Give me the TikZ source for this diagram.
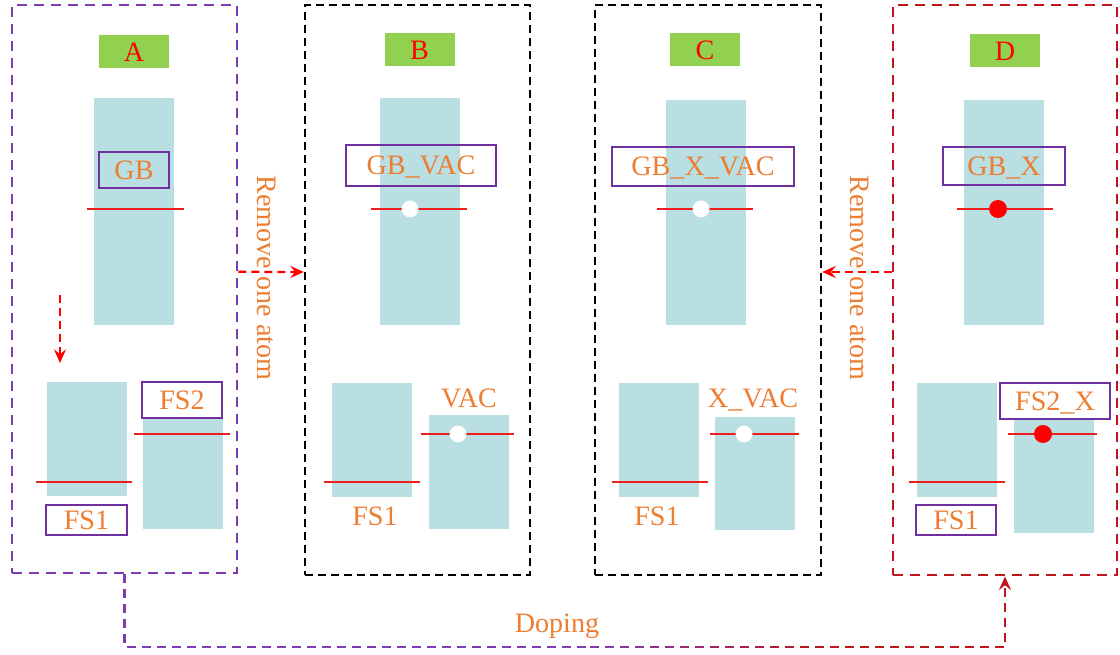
\documentclass[tikz,border=0pt]{standalone}
\usepackage{fontspec}
\setmainfont{Liberation Serif}
\usetikzlibrary{arrows.meta}
\definecolor{fpurple}{RGB}{125,60,180}
\definecolor{lpurple}{RGB}{112,48,160}
\definecolor{fred}{RGB}{192,20,30}
\definecolor{torange}{RGB}{237,125,49}
\definecolor{tgreen}{RGB}{146,208,80}
\definecolor{sblue}{RGB}{185,223,227}
\definecolor{lred}{RGB}{238,30,30}

\begin{document}
\begin{tikzpicture}[>={Stealth[length=0.34cm,width=0.3cm,inset=0.12cm]},font=\fontsize{20}{22}\selectfont,
 frm/.style={draw,line width=2pt,dash pattern=on 0.25cm off 0.175cm,minimum width=5.625cm,minimum height=14.25cm},
 tg/.style={fill=tgreen,text=red,minimum width=1.75cm,minimum height=0.825cm,inner sep=0pt,text height=13.2pt,text depth=0pt},
 blk/.style={fill=sblue,minimum width=2.0cm,inner sep=0pt},
 lbl/.style={draw=lpurple,line width=1.1pt,text=torange,minimum height=0.9cm,inner sep=0pt,text height=13.2pt,text depth=0pt},
 txt/.style={text=torange,inner sep=0pt,text height=13.2pt,text depth=0pt},
 lvl/.style={draw=lred,line width=1.4pt},
 vac/.style={circle,fill=white,minimum size=0.42cm,inner sep=0pt},
 dop/.style={circle,fill=red,minimum size=0.45cm,inner sep=0pt},
 mv/.style={draw=red,line width=1.6pt,dash pattern=on 0.2cm off 0.125cm,->},
 dpl/.style={line width=1.8pt,dash pattern=on 0.225cm off 0.15cm}]
\useasboundingbox (0,0) rectangle (28,-16.375);
% frames
\node[frm,draw=fpurple,minimum height=14.2cm] (fA) at (3.1125,-7.225) {};
\node[frm,draw=black,line width=1.6pt,dash pattern=on 0.2cm off 0.125cm] (fB) at (10.4375,-7.25) {};
\node[frm,draw=black,line width=1.6pt,dash pattern=on 0.2cm off 0.125cm,minimum width=5.65cm] (fC) at (17.7,-7.25) {};
\node[frm,draw=fred,minimum width=5.6cm] (fD) at (25.125,-7.25) {};
% tags
\node[tg] (tA) at (3.35,-1.3) {A};
\node[tg] (tB) at (10.49,-1.25) {B};
\node[tg] (tC) at (17.625,-1.25) {C};
\node[tg] (tD) at (25.125,-1.275) {D};
% slabs
\node[blk,minimum height=5.675cm] (gA) at (3.35,-5.29) {};
\node[blk,minimum height=5.675cm] (gB) at (10.51,-5.29) {};
\node[blk,minimum height=5.625cm] (gC) at (17.65,-5.31) {};
\node[blk,minimum height=5.625cm] (gD) at (25.1,-5.31) {};
\node[blk,minimum height=2.85cm] (sA1) at (2.1625,-10.975) {};
\node[blk,minimum height=2.85cm] (sB1) at (9.3,-10.99) {};
\node[blk,minimum height=2.85cm] (sC1) at (16.475,-10.99) {};
\node[blk,minimum height=2.85cm] (sD1) at (23.925,-10.99) {};
\node[blk,minimum height=2.775cm] (sA2) at (4.575,-11.8375) {};
\node[blk,minimum height=2.85cm] (sB2) at (11.725,-11.8) {};
\node[blk,minimum height=2.825cm] (sC2) at (18.875,-11.8375) {};
\node[blk,minimum height=2.875cm] (sD2) at (26.35,-11.8875) {};
% levels
\draw[lvl] (2.175,-5.225) -- (4.6,-5.225);
\draw[lvl] (9.275,-5.225) -- (11.675,-5.225);
\draw[lvl] (16.425,-5.225) -- (18.825,-5.225);
\draw[lvl] (23.925,-5.225) -- (26.325,-5.225);
\draw[lvl] (0.9,-12.05) -- (3.3,-12.05);
\draw[lvl] (8.1,-12.05) -- (10.5,-12.05);
\draw[lvl] (15.3,-12.05) -- (17.7,-12.05);
\draw[lvl] (22.725,-12.05) -- (25.125,-12.05);
\draw[lvl] (3.35,-10.85) -- (5.75,-10.85);
\draw[lvl] (10.525,-10.85) -- (12.85,-10.85);
\draw[lvl] (17.75,-10.85) -- (19.975,-10.85);
\draw[lvl] (25.2,-10.85) -- (27.425,-10.85);
\node[vac] (cB1) at (10.25,-5.225) {};
\node[vac] (cC1) at (17.525,-5.225) {};
\node[dop] (dD1) at (24.95,-5.225) {};
\node[vac] (cB2) at (11.45,-10.85) {};
\node[vac] (cC2) at (18.6,-10.85) {};
\node[dop] (dD2) at (26.075,-10.85) {};
% labels
\node[lbl,minimum width=1.75cm] (lA) at (3.35,-4.25) {GB};
\node[lbl,minimum width=3.75cm,minimum height=1.025cm] (lB) at (10.525,-4.1375) {GB\_VAC};
\node[lbl,minimum width=4.55cm,minimum height=0.975cm] (lC) at (17.575,-4.1625) {GB\_X\_VAC};
\node[lbl,minimum width=3.05cm,minimum height=0.95cm] (lD) at (25.1,-4.15) {GB\_X};
\node[lbl,minimum width=2.0cm] (fsA2) at (4.55,-10.0) {FS2};
\node[lbl,minimum width=2.025cm,minimum height=0.75cm] (fsA1) at (2.1625,-13.0) {FS1};
\node[lbl,minimum width=2.0cm,minimum height=0.75cm] (fsD1) at (23.9,-13.0) {FS1};
\node[lbl,minimum width=2.75cm] (fsD2) at (26.375,-10.025) {FS2\_X};
\node[txt] (vB) at (11.725,-9.95) {VAC};
\node[txt] (vC) at (18.825,-9.95) {X\_VAC};
\node[txt] (fsB1) at (9.375,-12.9) {FS1};
\node[txt] (fsC1) at (16.425,-12.9) {FS1};
% moves
\coordinate (p0) at (1.5,-7.375);
\coordinate (p1) at (1.5,-9.075);
\draw[mv] (p0) -- (p1);
\draw[mv] ([yshift=0.43cm]fA.east) -- ([yshift=0.45cm]fB.west);
\draw[mv] ([yshift=0.45cm]fD.west) -- ([yshift=0.45cm]fC.east);
\node[txt,rotate=-90] (rA) at (6.675,-6.95) {Remove one atom};
\node[txt,rotate=-90] (rD) at (21.5,-6.95) {Remove one atom};
% doping
\coordinate (dp) at (0,-16.175);
\draw[dpl,draw=fpurple] (fA.south) -- (fA.south |- dp) -- (14.75,-16.175);
\foreach \k in {1,...,8} {
  \pgfmathsetmacro\m{12.5*\k-6.25}
  \draw[dpl,draw=fred!\m!fpurple] (14.0+0.75*\k,-16.175) -- (14.75+0.75*\k,-16.175);
}
\draw[dpl,draw=fred,->] (20.75,-16.175) -- (fD.south |- dp) -- (fD.south);
\node[txt] (dtx) at (13.925,-15.575) {Doping};
\end{tikzpicture}
\end{document}
